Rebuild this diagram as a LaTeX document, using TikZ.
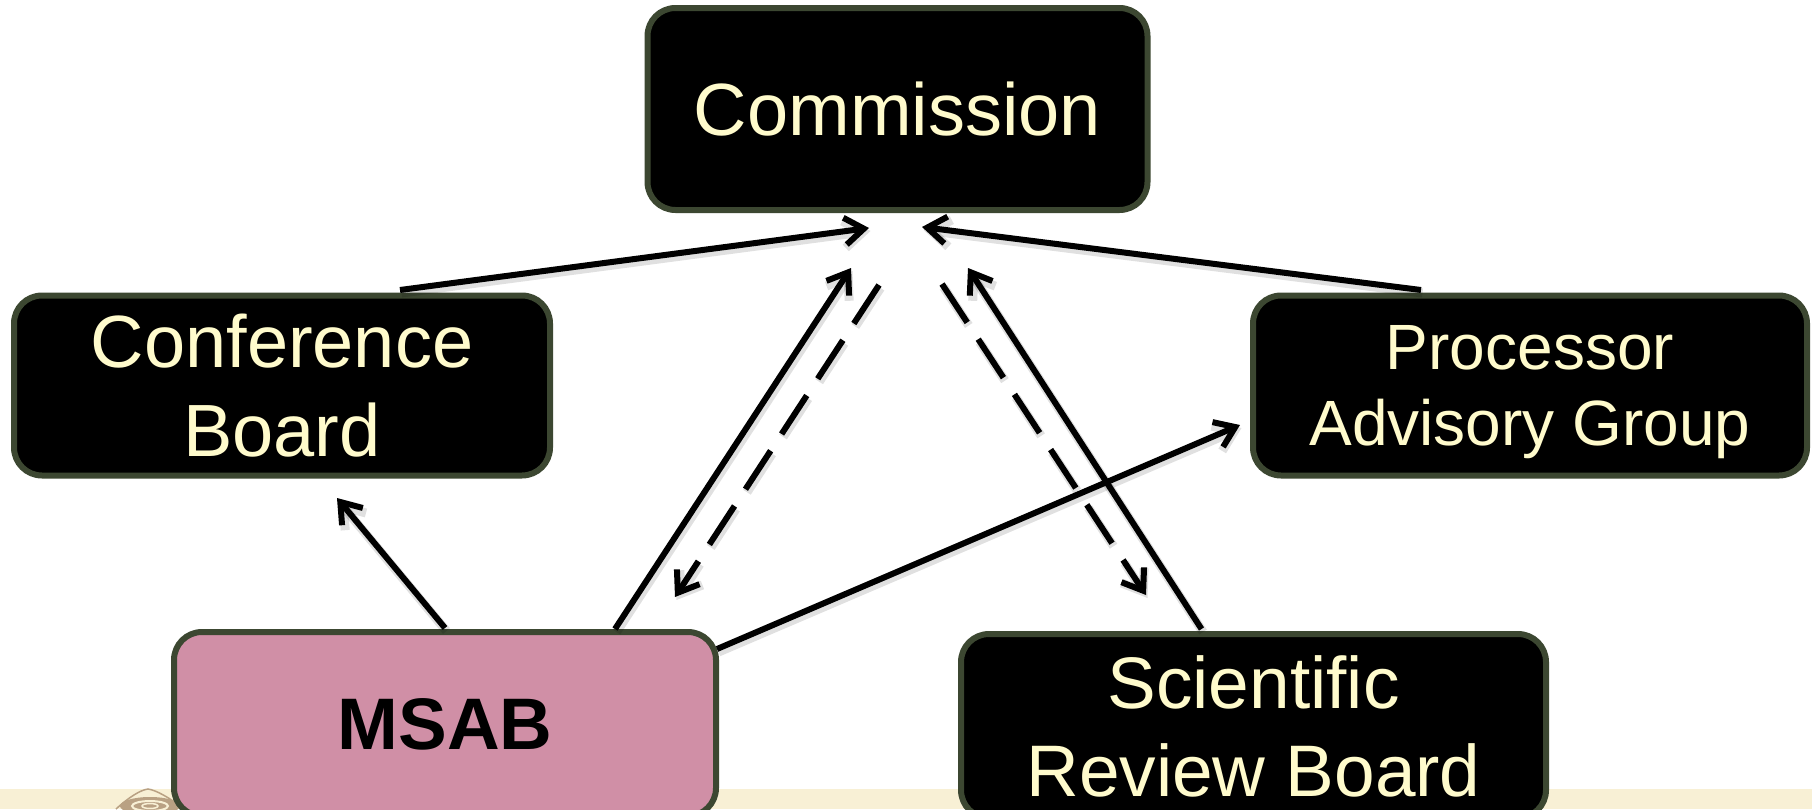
\documentclass[tikz,border=0pt]{standalone}
\usepackage{fontspec}
\setmainfont{Liberation Sans}
\usetikzlibrary{arrows.meta,calc}
\definecolor{boxedge}{HTML}{3C4731}
\definecolor{cream}{HTML}{FFFBCC}
\definecolor{msabpink}{HTML}{D08FA6}
\definecolor{bandcol}{HTML}{F8F0D5}
\definecolor{logocol}{HTML}{B9A183}
\begin{document}
\begin{tikzpicture}[x=1pt,y=-1pt,
  box/.style={draw=boxedge, line width=6pt, rounded corners=28pt, fill=black,
    text=cream, align=center, inner sep=0pt},
  tipstyle/.style={-{Straight Barb[length=19pt,width=27pt]}},
  arr/.style={line width=6pt, tipstyle,
    preaction={draw=black, opacity=0.12, line width=9pt,
      transform canvas={shift={(1.5pt,-3pt)}}}},
  dsh/.style={line width=6pt, tipstyle, dash pattern=on 46pt off 20pt,
    preaction={draw=black, opacity=0.12, line width=9pt, dash pattern=on 46pt off 20pt,
      transform canvas={shift={(1.5pt,-3pt)}}}}]
\path[use as bounding box] (0,0) rectangle (1812,809);
\clip (0,0) rectangle (1812,809);
\fill[white] (0,0) rectangle (1812,809);
% bottom band and logo
\fill[bandcol] (0,789) rectangle (1812,809);
\draw[logocol, line width=1.5pt] (116,809) .. controls (128,798) and (140,790) .. (148,789)
   .. controls (156,790) and (170,798) .. (184,809);
\fill[logocol] (150,806) ellipse [x radius=30, y radius=9];
\draw[bandcol, line width=2pt] (150,806) ellipse [x radius=18, y radius=5];
\draw[bandcol, line width=1.5pt] (150,806) ellipse [x radius=8, y radius=2.5];
% boxes
\node[box, minimum width=500pt, minimum height=202pt,
  font=\fontsize{74}{89}\selectfont] (comm) at (897.5,109) {Commission};
\node[box, minimum width=536pt, minimum height=180pt,
  font=\fontsize{74}{89}\selectfont] (cb) at (282,385.5) {Conference\\Board};
\node[box, minimum width=554pt, minimum height=180pt, text depth=0pt,
  font=\fontsize{64}{76}\selectfont] (pag) at (1530,385.5) {Processor\\Advisory Group};
\node[box, fill=msabpink, text=black, minimum width=542pt, minimum height=184pt,
  font=\fontsize{73}{88}\selectfont\bfseries] (msab) at (445,724) {MSAB};
\node[box, minimum width=585pt, minimum height=184pt,
  font=\fontsize{73}{88}\selectfont] (srb) at (1253.5,726) {Scientific\\Review Board};
% connectors
\draw[arr] ($(cb.north)+(118,-2.5)$) -- ($(comm.south)+(-28.5,15)$);
\draw[arr] ($(pag.north)+(-109,-2.5)$) -- ($(comm.south)+(24.5,14)$);
\draw[arr] ($(msab.north)+(170,0)$) -- ($(comm.south)+(-46.5,55)$);
\draw[dsh] ($(comm.south)+(-18.5,72)$) -- ($(msab.north)+(230,-32)$);
\draw[dsh] ($(comm.south)+(44.5,71)$) -- ($(srb.north)+(-107.5,-36)$);
\draw[arr] ($(srb.north)+(-52,-2)$) -- ($(comm.south)+(70.5,55)$);
\draw[arr] ($(msab.north)+(0,-1)$) -- ($(cb.south)+(55,19.5)$);
\draw[arr] ($(msab.east)+(-2,-75)$) -- ($(pag.west)+(-10,39.5)$);
\end{tikzpicture}
\end{document}
